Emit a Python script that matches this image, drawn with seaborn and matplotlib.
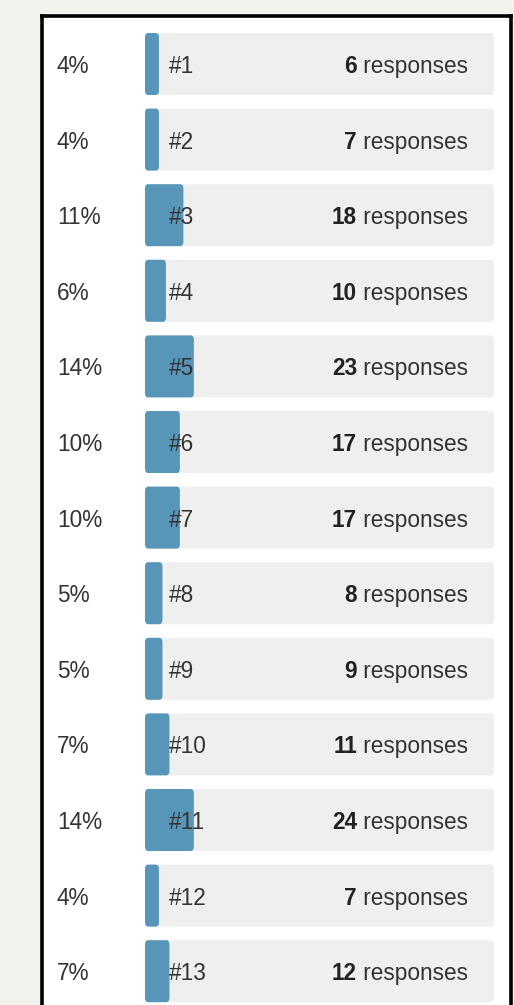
import matplotlib
matplotlib.use("Agg")
import matplotlib.pyplot as plt
import seaborn as sns
import pandas as pd
from matplotlib.patches import FancyBboxPatch

# === Data ===
options = ["#1", "#2", "#3", "#4", "#5", "#6", "#7", "#8", "#9", "#10", "#11", "#12", "#13"]
percent = [4, 4, 11, 6, 14, 10, 10, 5, 5, 7, 14, 4, 7]
responses = [6, 7, 18, 10, 23, 17, 17, 8, 9, 11, 24, 7, 12]

df = pd.DataFrame({"option": options, "percent": percent, "responses": responses})
df["full"] = 100

BG = "#f4f2ed"
BLUE = "#5796b9"
GRAY = "#efefef"
TXT = "#333333"

sns.set_theme(style="white")
plt.rcParams["font.family"] = ["Liberation Sans", "DejaVu Sans"]

fig = plt.figure(figsize=(5.14, 10.05), dpi=100, facecolor=BG)
W, H = 514, 1005
ax = fig.add_axes([42 / W, 0, (511 - 42) / W, (1005 - 16) / H])
ax.set_facecolor("white")

# gray track bars (100%) and blue value bars
sns.barplot(data=df, y="option", x="full", color=GRAY, width=0.82,
            orient="h", ax=ax, saturation=1)
sns.barplot(data=df, y="option", x="percent", color=BLUE, width=0.82,
            orient="h", ax=ax, saturation=1)

# swap plain rectangles for slightly rounded ones
for p in list(ax.patches):
    x, y = p.get_x(), p.get_y()
    w, h = p.get_width(), p.get_height()
    fc = p.get_facecolor()
    p.remove()
    rp = FancyBboxPatch((x, y), w, h,
                        boxstyle="round,pad=0,rounding_size=0.9",
                        mutation_aspect=h / 12,
                        facecolor=fc, edgecolor="none")
    ax.add_patch(rp)

px = 100 / (494 - 145)  # data units per pixel
ax.set_xlim(-(145 - 42) * px, (511 - 145) * px)
row = 75.6
ax.set_ylim((1005 - 64) / row, (16 - 64) / row)

fs = 16.3
dy = 2.5 / row  # text sits a touch below the bar centre
for i, r in df.iterrows():
    ax.text(-(145 - 57) * px, i + dy, f"{r['percent']}%", ha="left", va="center",
            fontsize=fs, color=TXT)
    ax.text((169 - 145) * px, i + dy, r["option"], ha="left", va="center",
            fontsize=fs, color=TXT)
    t = ax.text((468 - 145) * px, i + dy, " responses", ha="right", va="center",
                fontsize=fs, color=TXT)
    ax.annotate(str(r["responses"]), xycoords=t, xy=(0, 0.5), ha="right",
                va="center", fontsize=fs, fontweight="bold", color="#222222")

ax.set_xlabel("")
ax.set_ylabel("")
ax.set_xticks([])
ax.set_yticks([])
for side in ["left", "top", "right"]:
    ax.spines[side].set_visible(True)
    ax.spines[side].set_color("black")
    ax.spines[side].set_linewidth(2.6)
ax.spines["bottom"].set_visible(False)

fig.savefig("out.png", dpi=100, facecolor=BG)
